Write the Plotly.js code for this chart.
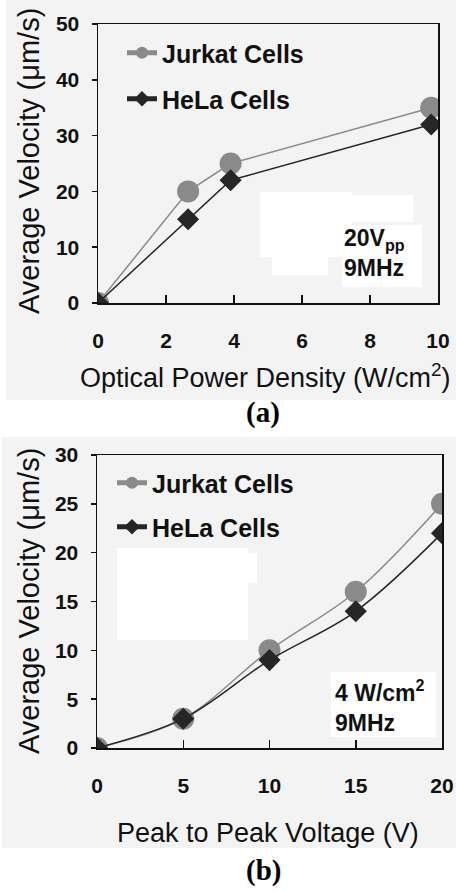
<!DOCTYPE html>
<html>
<head>
<meta charset="utf-8">
<script src="https://cdn.plot.ly/plotly-3.0.1.min.js"></script>
<style>
html,body{margin:0;padding:0;background:#fff;}
#chart{width:456px;height:892px;}
</style>
</head>
<body>
<div id="chart"></div>
<script>
// ---- Data (panel a) ----
const powerDensity = [0, 2.65, 3.9, 9.8];
const jurkatA = [0, 20, 25, 35];
const helaA = [0, 15, 22, 32];
// ---- Data (panel b) ----
const voltage = [0, 5, 10, 15, 20];
const jurkatB = [0, 3, 10, 16, 25];
const helaB = [0, 3, 9, 14, 22];
// ---- Tick labels ----
const xTicksA = [0, 2, 4, 6, 8, 10];
const yTicksA = [0, 10, 20, 30, 40, 50];
const xTicksB = [0, 5, 10, 15, 20];
const yTicksB = [0, 5, 10, 15, 20, 25, 30];
const seriesNames = ["Jurkat Cells", "HeLa Cells"];

const W = 456, H = 892;
const px = v => v / W;
const py = v => 1 - v / H;
const SANS = "Liberation Sans, Arial, sans-serif";
const SERIF = "Liberation Serif, Times New Roman, serif";
const GRAY = "#8a8a8a", DARK = "#262626";

const traces = [
  {x: powerDensity, y: jurkatA, name: seriesNames[0], mode: "lines+markers", xaxis: "x", yaxis: "y",
   line: {color: GRAY, width: 1.5}, marker: {symbol: "circle", size: 22, color: GRAY}, legend: "legend"},
  {x: powerDensity, y: helaA, name: seriesNames[1], mode: "lines+markers", xaxis: "x", yaxis: "y",
   line: {color: DARK, width: 1.5}, marker: {symbol: "diamond", size: 17, color: DARK}, legend: "legend2"},
  {x: voltage, y: jurkatB, name: seriesNames[0], mode: "lines+markers", xaxis: "x2", yaxis: "y2",
   line: {color: GRAY, width: 1.5, shape: "spline", smoothing: 1}, marker: {symbol: "circle", size: 22, color: GRAY}, legend: "legend3"},
  {x: voltage, y: helaB, name: seriesNames[1], mode: "lines+markers", xaxis: "x2", yaxis: "y2",
   line: {color: DARK, width: 1.5, shape: "spline", smoothing: 1}, marker: {symbol: "diamond", size: 17, color: DARK}, legend: "legend4"}
];

const tickFont = {family: SANS, size: 21, color: "#111", weight: "bold"};
function xAxis(dom, range, ticks, anchor) {
  return {domain: dom, range: range, tickvals: ticks, ticktext: ticks.map(String), anchor: anchor,
    showline: true, mirror: true, linecolor: "#111", linewidth: 1.5, showgrid: false, zeroline: false,
    ticks: "inside", ticklen: 8, tickcolor: "#111", tickwidth: 1.5, tickfont: tickFont,
    ticklabelstandoff: 18, fixedrange: true};
}
function yAxis(dom, range, ticks, anchor) {
  return {domain: dom, range: range, tickvals: ticks, ticktext: ticks.map(String), anchor: anchor,
    showline: true, mirror: true, linecolor: "#111", linewidth: 1.5, showgrid: false, zeroline: false,
    ticks: "outside", ticklen: 5, tickcolor: "#111", tickwidth: 1.5, tickfont: tickFont,
    ticklabelstandoff: 8, fixedrange: true};
}
function legendAt(xp, yp) {
  return {x: px(xp), y: py(yp), xanchor: "left", yanchor: "middle", bgcolor: "rgba(0,0,0,0)",
    borderwidth: 0, itemsizing: "constant", font: {family: SANS, size: 25, color: "#111", weight: "bold"}};
}
function rect(x0, y0, x1, y1, color) {
  return {type: "rect", xref: "paper", yref: "paper", x0: px(x0), x1: px(x1), y0: py(y1), y1: py(y0),
    fillcolor: color, line: {width: 0}, layer: "below"};
}
const BG = "#f3f3f3";
const shapes = [
  rect(6, 0, 456, 400, BG),
  rect(2, 437, 456, 848, BG),
  rect(260, 192, 352, 257, "#fff"),
  rect(272, 257, 328, 275, "#fff"),
  rect(352, 195, 413, 222, "#fff"),
  rect(342, 225, 422, 287, "#fff"),
  rect(117, 548, 248, 640, "#fff"),
  rect(220, 553, 257, 583, "#fff"),
  rect(331, 672, 436, 737, "#fff")
];
function ann(text, xp, yp, opts) {
  return Object.assign({text: text, xref: "paper", yref: "paper", x: px(xp), y: py(yp),
    showarrow: false, xanchor: "center", yanchor: "middle"}, opts);
}
const xTitleFont = {family: SANS, size: 27, color: "#111"};
const yTitleFont = {family: SANS, size: 29, color: "#111"};
const annotations = [
  ann("Average Velocity (μm/s)", 29, 161, {textangle: -90, font: yTitleFont}),
  ann("Optical Power Density (W/cm<sup>2</sup>)", 265, 376, {font: xTitleFont}),
  ann("Average Velocity (μm/s)", 29, 601, {textangle: -90, font: yTitleFont}),
  ann("Peak to Peak Voltage (V)", 268, 833, {font: xTitleFont}),
  ann("20V<sub>pp</sub><br>9MHz", 342, 253, {xanchor: "left", align: "left", font: {family: SANS, size: 23, color: "#111", weight: "bold"}}),
  ann("4 W/cm<sup>2</sup><br>9MHz", 333, 706, {xanchor: "left", align: "left", font: {family: SANS, size: 23, color: "#111", weight: "bold"}}),
  ann("(a)", 263, 412, {font: {family: SERIF, size: 29, color: "#000", weight: "bold"}}),
  ann("(b)", 263, 870, {font: {family: SERIF, size: 29, color: "#000", weight: "bold"}})
];

const layout = {
  width: W, height: H, margin: {l: 0, r: 0, t: 0, b: 0},
  paper_bgcolor: "#fff", plot_bgcolor: "rgba(0,0,0,0)", showlegend: true,
  xaxis: xAxis([px(98), px(438)], [0, 10], xTicksA, "y"),
  yaxis: yAxis([py(303), py(24)], [0, 50], yTicksA, "x"),
  xaxis2: xAxis([px(97), px(442)], [0, 20], xTicksB, "y2"),
  yaxis2: yAxis([py(748), py(455)], [0, 30], yTicksB, "x2"),
  legend: legendAt(122, 53),
  legend2: legendAt(122, 99),
  legend3: legendAt(112, 483),
  legend4: legendAt(112, 527),
  shapes: shapes, annotations: annotations
};
Plotly.newPlot("chart", traces, layout, {displayModeBar: false, staticPlot: true});
</script>
</body>
</html>
